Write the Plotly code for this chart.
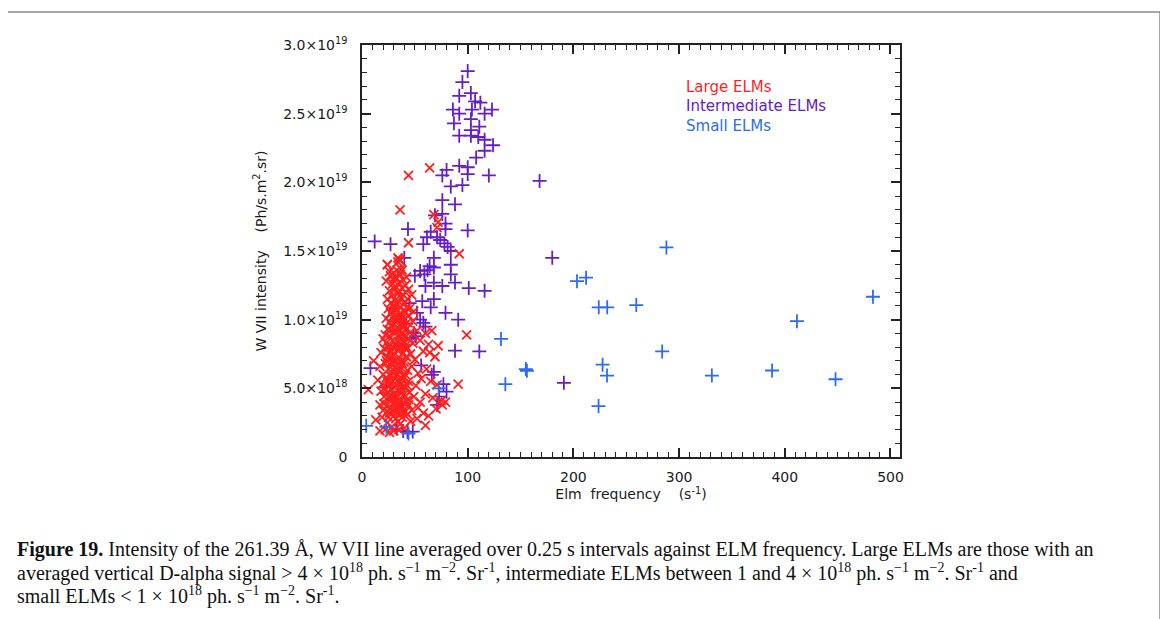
import plotly.graph_objects as go

# W VII intensity in units of 1e18 Ph/s.m2.sr, ELM frequency in s^-1
large_x = [34, 35, 36, 34, 24, 92, 44, 64, 36, 68, 72, 71, 44, 24,
           27, 30, 33, 36, 39, 42, 29, 32, 35, 38, 41, 44, 26, 47,
           28, 31, 34, 37, 40, 43, 30, 33, 36, 45, 49,
           27, 29, 32, 35, 38, 41, 44, 26, 31, 34, 37, 40, 48,
           24, 28, 30, 33, 36, 39, 42, 46, 52, 60, 66, 72,
           20, 23, 26, 29, 32, 35, 38, 41, 44, 48, 55, 63, 99,
           18, 21, 24, 27, 30, 33, 36, 39, 42, 46, 50, 58, 69, 64,
           11, 17, 22, 25, 28, 31, 34, 37, 40, 43, 47, 53, 61,
           6, 15, 19, 23, 26, 29, 32, 35, 38, 41, 44, 51, 56, 71, 91, 65,
           18, 21, 24, 27, 30, 33, 36, 39, 42, 45, 49, 55, 60, 67, 79, 76,
           17, 20, 23, 26, 29, 32, 35, 38, 41, 44, 47, 53, 58, 63, 75, 70,
           13, 19, 24, 28, 32, 36, 40, 46, 52, 60, 17, 22, 30,
           29.5, 34.5, 31.5, 37.5, 30.5, 35.5, 32.5, 36.5, 30.5, 33.5,
           37.5, 31.5, 34.5, 38.5, 27.5, 29.5, 33.5, 28.5, 39.5, 25.5,
           33, 37, 31, 35, 29, 27, 39, 41, 32, 36,
           23, 26, 31, 38, 41, 24, 27, 39, 42, 25, 29, 36, 40, 23, 27,
           31, 38, 43, 22, 25, 34, 37, 40, 43, 23, 26, 29, 32, 35, 38,
           41, 20, 24, 27, 30, 34, 37, 40, 43, 22, 25, 28, 31, 35, 38,
           41, 44, 21, 24, 27, 30, 33, 37, 40, 43, 25, 34, 38, 26, 35]
large_y = [14.5, 14.4, 14.3, 14.2, 14.0, 14.8, 20.5, 21.05, 18.0, 17.65, 17.1, 16.7, 15.6, 14.0,
           13.2, 13.4, 13.0, 13.3, 12.9, 13.1, 12.6, 12.4, 12.7, 12.3, 12.5, 12.2, 12.1, 11.8,
           11.7, 11.4, 11.9, 11.6, 11.2, 11.5, 11.0, 11.1, 10.9, 10.8, 10.6,
           10.5, 10.2, 10.7, 10.4, 10.1, 10.6, 10.3, 9.8, 9.9, 10.0, 9.7, 9.6, 9.9,
           9.3, 9.5, 9.1, 9.4, 9.2, 9.0, 9.3, 9.1, 9.2, 9.0, 9.2, 8.1,
           8.6, 8.3, 8.8, 8.5, 8.2, 8.7, 8.4, 8.1, 8.6, 8.3, 8.5, 8.2, 8.9,
           7.6, 7.9, 7.3, 7.7, 7.4, 7.8, 7.2, 7.6, 7.3, 7.5, 7.1, 7.7, 7.3, 7.6,
           7.0, 6.6, 6.8, 6.4, 6.9, 6.2, 6.7, 6.5, 6.9, 6.3, 6.6, 6.1, 6.4,
           4.9, 5.6, 5.3, 5.8, 5.2, 5.5, 5.9, 5.4, 5.7, 5.1, 5.5, 5.2, 5.7, 5.25, 5.3, 5.5,
           4.8, 4.4, 4.7, 4.2, 4.6, 4.3, 4.9, 4.5, 4.1, 4.7, 4.4, 4.0, 4.6, 4.3, 4.0, 3.8,
           3.8, 3.4, 3.7, 3.2, 3.9, 3.5, 3.1, 3.6, 3.3, 3.8, 3.4, 3.6, 3.2, 3.0, 4.1, 3.5,
           2.7, 2.9, 2.5, 2.2, 2.8, 2.4, 2.1, 2.6, 2.8, 2.3, 1.9, 2.0, 1.9,
           12.9, 12.0, 11.0, 10.4, 9.7, 8.9, 8.0, 7.0, 6.5, 6.0,
           5.0, 4.0, 3.8, 3.2, 4.5, 3.3, 10.2, 7.3, 8.8, 5.5,
           13.6, 13.7, 12.2, 11.3, 8.0, 6.0, 9.4, 7.9, 4.4, 3.5,
           12.8, 13.5, 13.1, 13.6, 12.0, 11.5, 11.2, 11.8, 10.9, 10.8, 10.6, 10.1, 10.0, 10.1, 9.2,
           9.0, 9.6, 9.8, 8.9, 8.0, 8.4, 8.0, 8.4, 7.9, 7.0, 7.2, 6.8, 6.9, 6.3, 6.8,
           6.0, 6.0, 5.5, 5.9, 5.1, 5.6, 5.3, 5.8, 5.2, 4.9, 4.4, 4.9, 4.5, 4.1, 4.7,
           4.4, 4.2, 3.9, 3.3, 3.6, 3.0, 3.3, 3.8, 3.9, 3.1, 2.9, 2.6, 2.9, 1.8, 2.0]

inter_x = [100, 95, 92, 103, 86, 92, 104, 107, 112, 116, 123, 103, 87, 111,
           92, 103, 103, 110, 116, 116, 124, 108, 92, 100, 100, 120, 80, 76,
           168, 84, 95, 76, 88, 76, 69, 79, 79, 100, 43.5, 61.5, 65, 58, 71,
           74, 78, 81, 84, 12, 27, 40, 180, 68, 68, 84, 55, 59, 62, 64, 50,
           84, 60, 68, 76, 88, 101, 116, 57, 68, 45, 65, 52, 58, 79, 91,
           49, 47, 60, 55, 88, 111, 8, 56, 66, 68, 80, 71, 23, 33, 43, 39,
           48, 191, 51, 42, 73, 77]
inter_y = [28.1, 27.3, 26.3, 26.5, 25.3, 25.0, 25.3, 25.9, 25.8, 25.0, 25.3, 24.6, 24.3, 24.05,
           23.4, 23.8, 23.4, 23.3, 23.1, 22.3, 22.7, 21.8, 21.2, 21.1, 20.6, 20.5, 20.9, 20.5,
           20.1, 19.7, 19.8, 18.7, 18.4, 17.7, 17.6, 17.0, 16.6, 16.5, 16.6, 16.0, 16.4, 15.5, 16.0,
           15.8, 15.55, 15.3, 15.0, 15.7, 15.5, 14.5, 14.5, 14.5, 13.8, 14.0, 13.55, 13.3, 13.6, 13.9, 13.2,
           13.3, 12.45, 12.7, 12.45, 12.7, 12.3, 12.1, 11.35, 11.5, 11.2, 10.9, 10.5, 9.77, 10.5, 10.0,
           9.03, 8.67, 9.5, 10.0, 7.74, 7.69, 6.47, 6.67, 5.98, 6.2, 4.76, 3.79, 5.05, 2.07, 1.83, 1.9,
           1.85, 5.4, 8.8, 9.7, 4.4, 5.3]

small_x = [131.5, 135.6, 156, 155, 4, 23, 44, 203.4, 212, 224, 232, 259.5, 288,
           483.4, 411.5, 284, 227.6, 231.8, 331, 388, 448, 223.8, 72.5]
small_y = [8.6, 5.3, 6.28, 6.4, 2.27, 2.2, 1.71, 12.8, 13.06, 10.9, 10.9, 11.06, 15.26,
           11.67, 9.89, 7.69, 6.72, 5.93, 5.93, 6.3, 5.66, 3.71, 5.0]

y_ticks = [0, 5, 10, 15, 20, 25, 30]
y_ticklabels = ["0", "5.0×10<sup>18</sup>", "1.0×10<sup>19</sup>", "1.5×10<sup>19</sup>",
                "2.0×10<sup>19</sup>", "2.5×10<sup>19</sup>", "3.0×10<sup>19</sup>"]
x_ticks = [0, 100, 200, 300, 400, 500]

RED = "#ff1f1f"
PURPLE = "#6420c4"
BLUE = "#2c6cf2"

# plot box in page pixels: x 362..900, y 45..457 (page has an 8px body margin)
PX0, PY0, PW, PH = 362, 457, 538, 412


def px(x):
    return (x - PX0) / PW


def py(y):
    return (PY0 - y) / PH


fig = go.Figure()
fig.add_trace(go.Scatter(x=inter_x, y=inter_y, mode="markers", name="Intermediate ELMs",
                         marker=dict(symbol="cross-thin-open", size=10, color=PURPLE,
                                     line=dict(color=PURPLE, width=1.8))))
fig.add_trace(go.Scatter(x=large_x, y=large_y, mode="markers", name="Large ELMs",
                         marker=dict(symbol="x-thin-open", size=9, color=RED,
                                     line=dict(color=RED, width=1.8))))
fig.add_trace(go.Scatter(x=small_x, y=small_y, mode="markers", name="Small ELMs",
                         marker=dict(symbol="cross-thin-open", size=10, color=BLUE,
                                     line=dict(color=BLUE, width=1.8))))

axis_font = dict(family="DejaVu Sans", size=14, color="#1a1a1a")
fig.update_xaxes(range=[0, 509], tickvals=x_ticks, ticks="inside", ticklen=9, tickwidth=1.5,
                 tickcolor="#222", showline=True, linecolor="#222", linewidth=1.5, mirror="allticks",
                 showgrid=False, zeroline=False, tickfont=axis_font, ticklabelstandoff=6,
                 minor=dict(dtick=10, ticks="inside", ticklen=5, tickcolor="#222", tickwidth=1.2),
                 title=dict(text="Elm  frequency    (s<sup>-1</sup>)", font=axis_font, standoff=4))
fig.update_yaxes(range=[0, 30], tickvals=y_ticks, ticktext=y_ticklabels, ticks="inside", ticklen=9,
                 tickwidth=1.5, tickcolor="#222", showline=True, linecolor="#222", linewidth=1.5,
                 mirror="allticks", showgrid=False, zeroline=False, tickfont=axis_font,
                 ticklabelstandoff=10,
                 minor=dict(dtick=1, ticks="inside", ticklen=5, tickcolor="#222", tickwidth=1.2),
                 title=dict(text="W VII intensity    (Ph/s.m<sup>2</sup>.sr)", font=axis_font, standoff=13))

# legend written as coloured text inside the plot
legend_rows = [("Large ELMs", RED, 87), ("Intermediate ELMs", PURPLE, 106), ("Small ELMs", BLUE, 126)]
for txt, col, ypix in legend_rows:
    fig.add_annotation(x=px(684), y=py(ypix), xref="paper", yref="paper", text=txt,
                       showarrow=False, xanchor="left", yanchor="middle",
                       font=dict(family="DejaVu Sans", size=15, color=col))

caption = [
    "<b>Figure 19.</b> Intensity of the 261.39 Å, W VII line averaged over 0.25 s intervals against ELM frequency. "
    "Large ELMs are those with an",
    "averaged vertical D-alpha signal &gt; 4 × 10<sup>18</sup> ph. s<sup>−1</sup> m<sup>−2</sup>. Sr<sup>-1</sup>, "
    "intermediate ELMs between 1 and 4 × 10<sup>18</sup> ph. s<sup>−1</sup> m<sup>−2</sup>. Sr<sup>-1</sup> and",
    "small ELMs &lt; 1 × 10<sup>18</sup> ph. s<sup>−1</sup> m<sup>−2</sup>. Sr<sup>-1</sup>.",
]
caption_y = [549, 572, 595]
for line, ypix in zip(caption, caption_y):
    fig.add_annotation(x=px(15), y=py(ypix), xref="paper", yref="paper",
                       text=line, showarrow=False, xanchor="left", yanchor="middle",
                       font=dict(family="Liberation Serif", size=20, color="#111"))

# grey frame round the whole figure
fig.add_shape(type="rect", xref="paper", yref="paper", x0=px(5), x1=px(1160),
              y0=py(640), y1=py(12), line=dict(color="#8a8a8a", width=1.5))

fig.update_layout(width=1160, height=611, margin=dict(l=354, r=268, t=37, b=162),
                  plot_bgcolor="white", paper_bgcolor="white", showlegend=False)

fig.write_html("out.html")
